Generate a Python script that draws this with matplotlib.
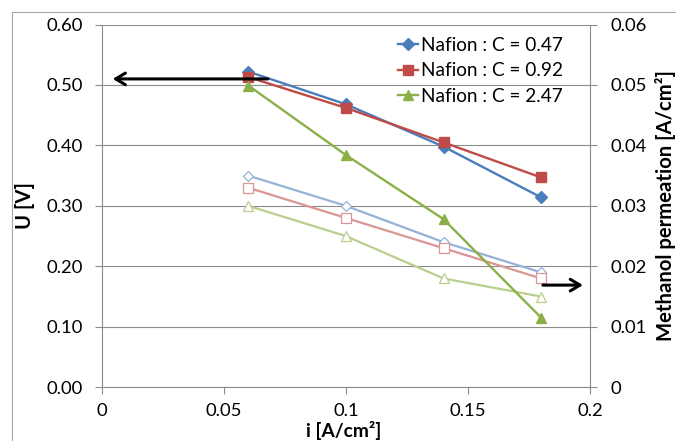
import matplotlib
matplotlib.use("Agg")
import matplotlib.pyplot as plt
from matplotlib.patches import Rectangle

# ---- data ----
current = [0.06, 0.10, 0.14, 0.18]
series_names = ["Nafion : C = 0.47", "Nafion : C = 0.92", "Nafion : C = 2.47"]
voltage_047 = [0.522, 0.468, 0.398, 0.314]
voltage_092 = [0.513, 0.462, 0.405, 0.347]
voltage_247 = [0.499, 0.384, 0.278, 0.115]
perm_047 = [0.035, 0.030, 0.024, 0.019]
perm_092 = [0.033, 0.028, 0.023, 0.018]
perm_247 = [0.030, 0.025, 0.018, 0.015]

x_ticks = [0, 0.05, 0.1, 0.15, 0.2]
x_tick_labels = ["0", "0.05", "0.1", "0.15", "0.2"]
y_ticks = [0.0, 0.1, 0.2, 0.3, 0.4, 0.5, 0.6]
y_tick_labels = ["0.00", "0.10", "0.20", "0.30", "0.40", "0.50", "0.60"]
y2_ticks = [0, 0.01, 0.02, 0.03, 0.04, 0.05, 0.06]
y2_tick_labels = ["0", "0.01", "0.02", "0.03", "0.04", "0.05", "0.06"]

plt.rcParams['font.family'] = ['Lato', 'DejaVu Sans']
FS = 13.3
FSB = 14.6

dark = ["#4A7EBB", "#BE4B48", "#8CB048"]
light = ["#95B3D7", "#D99694", "#B9CF8D"]

fig = plt.figure(figsize=(6.76, 4.41), dpi=100)
ax = fig.add_axes([102/676, 1-387.3/441, 488/676, (387.3-24.5)/441])
ax2 = ax.twinx()

gray = "#8C8C8C"

# light (permeation) series on right axis
for vals, col, mk, ms in zip([perm_047, perm_092, perm_247], light, ["D", "s", "^"], [5.5, 7, 7.5]):
    ax2.plot(current, vals, color=col, lw=1.6, marker=mk, ms=ms,
             markerfacecolor="white", markeredgecolor=col, markeredgewidth=0.9)

# dark (voltage) series on left axis
for vals, col, mk, ms, name in zip([voltage_047, voltage_092, voltage_247], dark,
                                   ["D", "s", "^"], [6, 7, 7.5], series_names):
    ax.plot(current, vals, color=col, lw=1.7, marker=mk, ms=ms,
            markerfacecolor=col, markeredgecolor=col, label=name)

ax.set_zorder(ax2.get_zorder() + 1)
ax.patch.set_visible(False)

ax.set_xlim(0, 0.2)
ax.set_ylim(0, 0.6)
ax2.set_ylim(0, 0.06)

ax.set_xticks(x_ticks)
ax.set_xticklabels(x_tick_labels, fontsize=FS)
ax.set_yticks(y_ticks)
ax.set_yticklabels(y_tick_labels, fontsize=FS)
ax2.set_yticks(y2_ticks)
ax2.set_yticklabels(y2_tick_labels, fontsize=FS)

ax2.grid(axis="y", color=gray, lw=0.8)
ax2.set_axisbelow(True)

for a in (ax, ax2):
    a.spines["top"].set_visible(False)
    for s in ("left", "right", "bottom"):
        a.spines[s].set_color(gray)
        a.spines[s].set_linewidth(0.8)
ax.spines["right"].set_visible(False)
ax2.spines["left"].set_visible(False)
ax2.spines["bottom"].set_visible(False)

ax.tick_params(axis="x", direction="out", length=5, width=0.8, color=gray, pad=6)
ax.tick_params(axis="y", direction="out", length=5, width=0.8, color=gray, pad=9)
ax2.tick_params(axis="y", direction="out", length=5, width=0.8, color=gray, pad=10)

ax.set_xlabel("i [A/cm²]", fontsize=13.8, fontweight="bold", va="top")
ax.xaxis.set_label_coords(0.496, -0.093)
ax.set_ylabel("U [V]", fontsize=FSB, fontweight="bold", va="center")
ax.yaxis.set_label_coords(-0.158, 0.5)
ax2.set_ylabel("Methanol permeation [A/cm²]", fontsize=FSB, fontweight="bold",
               va="center", rotation=90)
ax2.yaxis.set_label_coords(1.154, 0.5)

leg = ax.legend(loc="upper left", bbox_to_anchor=(0.6066, 0.966), frameon=False,
                fontsize=13.7, handlelength=1.05, handletextpad=0.15, labelspacing=0.45,
                borderpad=0, borderaxespad=0)

# arrows indicating which axis
ax.annotate("", xy=(0.0044, 0.51), xytext=(0.068, 0.51),
            arrowprops=dict(arrowstyle="->,head_length=0.5,head_width=0.3", lw=2.2,
                            color="black", mutation_scale=14, shrinkA=0, shrinkB=0))
ax2.annotate("", xy=(0.1971, 0.0169), xytext=(0.1807, 0.0169),
             arrowprops=dict(arrowstyle="->,head_length=0.5,head_width=0.3", lw=2.2,
                             color="black", mutation_scale=14, shrinkA=0, shrinkB=0))

# chart area border
fig.patches.append(Rectangle((11.5/676, -0.1), 1.2, 1.1 - 11.5/441,
                             transform=fig.transFigure, fill=False,
                             edgecolor="#A6A6A6", lw=0.8, clip_on=False))

fig.savefig("out.png", dpi=100)
